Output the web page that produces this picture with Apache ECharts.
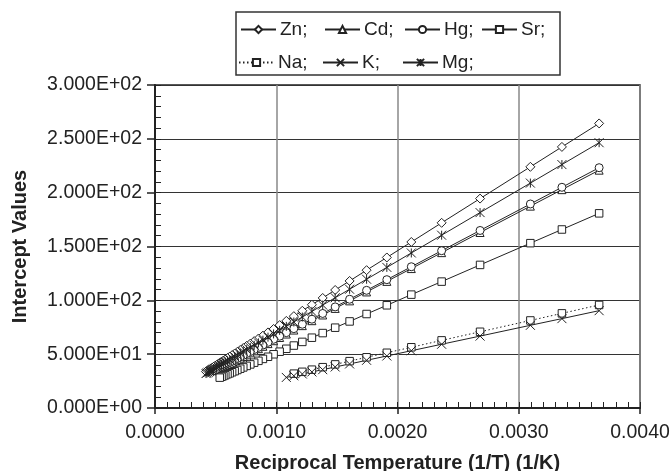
<!DOCTYPE html>
<html>
<head>
<meta charset="utf-8">
<script src="https://cdn.jsdelivr.net/npm/echarts@6/dist/echarts.min.js"></script>
<style>
  html, body { margin: 0; padding: 0; background: #fff; }
  #chart { width: 671px; height: 471px; }
</style>
</head>
<body>
<div id="chart"></div>
<script>
// Reciprocal temperatures (1/K), from 273 K upward in 25-50 K steps
const recipT = [
  0.003663, 0.003356, 0.003096, 0.002681, 0.002364, 0.002114, 0.001912, 0.001745,
  0.001605, 0.001486, 0.001383, 0.001294, 0.001215, 0.001145, 0.001083, 0.001028,
  0.000978, 0.000932, 0.000890, 0.000853, 0.000818, 0.000786, 0.000756, 0.000728,
  0.000703, 0.000679, 0.000657, 0.000636, 0.000616, 0.000598, 0.000580, 0.000564,
  0.000549, 0.000534, 0.000520, 0.000507, 0.000494, 0.000482, 0.000471, 0.000460,
  0.000450, 0.000440, 0.000430, 0.000421
];

// Intercept values, one entry per reciprocal temperature (starting at 273 K)
const zn = [
  264.3, 242.5, 224.0, 194.5, 172.0, 154.2, 139.8, 128.0, 118.0, 109.6, 102.2, 95.9,
  90.3, 85.3, 80.9, 77.0, 73.4, 70.2, 67.2, 64.5, 62.1, 59.8, 57.7, 55.7, 53.9, 52.2,
  50.6, 49.1, 47.7, 46.4, 45.1, 44.0, 42.9, 41.9, 40.9, 39.9, 39.0, 38.2, 37.4, 36.6,
  35.9, 35.2, 34.5, 33.8
];
const cd = [
  220.9, 202.8, 187.5, 163.0, 144.3, 129.5, 117.6, 107.8, 99.5, 92.5, 86.4, 81.1,
  76.5, 72.4, 68.7, 65.5, 62.5, 59.8, 57.3, 55.1, 53.1, 51.2, 49.4, 47.8, 46.3, 44.9,
  43.6, 42.3, 41.1, 40.1, 39.0, 38.1, 37.2, 36.3, 35.5, 34.7
];
const hg = [
  223.2, 205.0, 189.5, 164.9, 146.1, 131.2, 119.2, 109.3, 101.0, 93.9, 87.8, 82.5,
  77.8, 73.7, 70.0, 66.7, 63.8, 61.0, 58.5, 56.3, 54.3, 52.4, 50.6, 48.9, 47.4, 46.0,
  44.7, 43.5, 42.3, 41.2, 40.1, 39.2, 38.3, 37.4, 36.6, 35.8
];
const sr = [
  180.8, 165.8, 153.1, 132.9, 117.4, 105.3, 95.4, 87.3, 80.4, 74.6, 69.6, 65.3,
  61.4, 58.0, 55.0, 52.3, 49.9, 47.6, 45.6, 43.8, 42.1, 40.5, 39.1, 37.7, 36.5, 35.3,
  34.2, 33.2, 32.2, 31.4, 30.5, 29.7, 29.0, 28.2
];
const na = [
  95.7, 87.9, 81.3, 70.8, 62.8, 56.4, 51.3, 47.1, 43.5, 40.5, 37.9, 35.6, 33.6, 31.9
];
const k = [
  90.4, 83.0, 76.8, 66.8, 59.2, 53.2, 48.3, 44.3, 40.9, 38.1, 35.6, 33.5, 31.6, 29.9, 28.4
];
const mg = [
  246.4, 226.1, 208.9, 181.5, 160.5, 144.0, 130.6, 119.6, 110.3, 102.4, 95.6, 89.7,
  84.5, 79.9, 75.8, 72.1, 68.8, 65.8, 63.0, 60.5, 58.2, 56.1, 54.1, 52.3, 50.6, 49.0,
  47.6, 46.2, 44.9, 43.7, 42.5, 41.4, 40.4, 39.4, 38.5, 37.6, 36.8, 36.0, 35.3, 34.5,
  33.9, 33.2, 32.6, 32.0
];

const seriesNames = ['Zn', 'Cd', 'Hg', 'Sr', 'Na', 'K', 'Mg'];
const xTicks = ['0.0000', '0.0010', '0.0020', '0.0030', '0.0040'];

const INK = '#222';
const FONT = '"Liberation Sans", Arial, sans-serif';

const symbols = {
  Zn: { symbol: 'path://M5 0L10 5L5 10L0 5Z', size: 9 },
  Cd: { symbol: 'triangle', size: 8 },
  Hg: { symbol: 'circle', size: 8 },
  Sr: { symbol: 'rect', size: 7.5 },
  Na: { symbol: 'rect', size: 7.5 },
  K:  { symbol: 'path://M0 0L10 10M10 0L0 10', size: 9 },
  Mg: { symbol: 'path://M0 0L10 10M10 0L0 10M5 0L5 10', size: 9 }
};
const values = { Zn: zn, Cd: cd, Hg: hg, Sr: sr, Na: na, K: k, Mg: mg };

function pairs(vals) {
  return vals.map((v, i) => [recipT[i], v]);
}

function sci(v) {
  if (v === 0) return '0.000E+00';
  const e = Math.floor(Math.log10(v) + 1e-9);
  const m = v / Math.pow(10, e);
  return m.toFixed(3) + 'E+' + String(e).padStart(2, '0');
}

const series = seriesNames.map(name => ({
  name: name,
  type: 'line',
  xAxisIndex: 0,
  yAxisIndex: 0,
  data: pairs(values[name]),
  symbol: symbols[name].symbol,
  symbolSize: symbols[name].size,
  showAllSymbol: true,
  animation: false,
  lineStyle: { color: INK, width: 1, type: name === 'Na' ? [1.5, 2.5] : 'solid' },
  itemStyle: { color: '#fff', borderColor: INK, borderWidth: 1 },
  emphasis: { disabled: true }
}));

// Legend entries placed individually, two rows inside a framed box
const legendPos = {
  Zn: [240, 20], Cd: [324, 20], Hg: [404, 20], Sr: [481, 20],
  Na: [238, 53], K: [322, 53], Mg: [402, 53]
};
const legends = seriesNames.map(name => ({
  data: [name],
  left: legendPos[name][0],
  top: legendPos[name][1],
  padding: 0,
  itemWidth: 35,
  itemHeight: 9,
  itemGap: 4,
  selectedMode: false,
  formatter: n => n + ';',
  textStyle: { fontFamily: FONT, fontSize: 19, color: INK, padding: [0, 0, 0, -1] }
}));

const chart = echarts.init(document.getElementById('chart'), null, { renderer: 'canvas' });
chart.setOption({
  animation: false,
  backgroundColor: '#fff',
  legend: legends,
  graphic: [{
    type: 'rect',
    shape: { x: 236, y: 12, width: 324, height: 63 },
    style: { fill: 'none', stroke: '#333', lineWidth: 1.5 },
    silent: true
  }],
  grid: {
    left: 155, right: 31, top: 85, bottom: 63,
    containLabel: false, outerBoundsMode: 'none',
    show: true, borderColor: INK, borderWidth: 1.5, backgroundColor: 'transparent'
  },
  xAxis: [{
    type: 'value', min: 0, max: 0.004, interval: 0.001,
    name: 'Reciprocal Temperature (1/T) (1/K)',
    nameLocation: 'middle', nameGap: 45,
    nameTextStyle: { fontFamily: FONT, fontSize: 20, fontWeight: 'bold', color: INK },
    axisLine: { onZero: false, lineStyle: { color: INK, width: 2 } },
    axisTick: { show: true, length: 6, lineStyle: { color: INK, width: 1.5 } },
    axisLabel: {
      fontFamily: FONT, fontSize: 19.5, color: INK, margin: 15,
      formatter: v => xTicks[Math.round(v / 0.001)]
    },
    splitLine: { show: true, lineStyle: { color: '#888', width: 1.5 } }
  }, {
    type: 'value', min: 0, max: 0.004, interval: 0.0001, position: 'bottom',
    axisLine: { show: false, onZero: false },
    axisTick: { show: true, inside: true, length: 6, lineStyle: { color: INK, width: 1 } },
    axisLabel: { show: false },
    splitLine: { show: false }
  }],
  yAxis: [{
    type: 'value', min: 0, max: 300, interval: 50,
    name: 'Intercept Values',
    nameLocation: 'middle', nameGap: 125,
    nameTextStyle: { fontFamily: FONT, fontSize: 20, fontWeight: 'bold', color: INK },
    axisLine: { onZero: false, lineStyle: { color: INK, width: 2 } },
    axisTick: { show: true, length: 8, lineStyle: { color: INK, width: 1.5 } },
    axisLabel: { fontFamily: FONT, fontSize: 19.5, color: INK, margin: 13, formatter: sci },
    splitLine: { show: true, lineStyle: { color: '#333', width: 1 } }
  }, {
    type: 'value', min: 0, max: 300, interval: 10, position: 'left',
    axisLine: { show: false, onZero: false },
    axisTick: { show: true, inside: true, length: 6, lineStyle: { color: INK, width: 1 } },
    axisLabel: { show: false },
    splitLine: { show: false }
  }],
  series: series
});
</script>
</body>
</html>
